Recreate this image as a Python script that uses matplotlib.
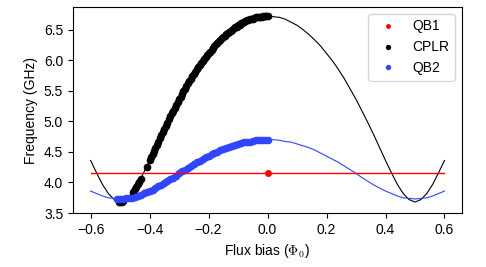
import numpy as np
import matplotlib
matplotlib.use("Agg")
import matplotlib.pyplot as plt

plt.rcParams['font.family'] = ['Liberation Sans', 'DejaVu Sans']
plt.rcParams['mathtext.fontset'] = 'cm'

# model curves, sampled every 0.02 flux quanta from -0.6 to 0.6
flux_line = np.linspace(-0.6, 0.6, 61)
cplr_line = [4.36, 4.16, 3.97, 3.82, 3.72, 3.68, 3.72, 3.82, 3.97, 4.16, 4.36, 4.57,
             4.78, 4.98, 5.17, 5.36, 5.53, 5.70, 5.85, 5.99, 6.11, 6.23, 6.33, 6.42,
             6.50, 6.57, 6.62, 6.67, 6.70, 6.71, 6.72, 6.71, 6.70, 6.67, 6.62, 6.57,
             6.50, 6.42, 6.33, 6.23, 6.11, 5.99, 5.85, 5.70, 5.53, 5.36, 5.17, 4.98,
             4.78, 4.57, 4.36, 4.16, 3.97, 3.82, 3.72, 3.68, 3.72, 3.82, 3.97, 4.16,
             4.36]
qb2_line = [3.86, 3.82, 3.78, 3.75, 3.74, 3.73, 3.74, 3.75, 3.78, 3.82, 3.86, 3.91,
            3.96, 4.02, 4.08, 4.15, 4.21, 4.27, 4.33, 4.38, 4.43, 4.48, 4.53, 4.57,
            4.60, 4.63, 4.66, 4.67, 4.69, 4.70, 4.70, 4.70, 4.69, 4.67, 4.66, 4.63,
            4.60, 4.57, 4.53, 4.48, 4.43, 4.38, 4.33, 4.27, 4.21, 4.15, 4.08, 4.02,
            3.96, 3.91, 3.86, 3.82, 3.78, 3.75, 3.74, 3.73, 3.74, 3.75, 3.78, 3.82,
            3.86]
qb1_line_x = [-0.6, 0.6]
qb1_line = [4.16, 4.16]

# measured points
qb1_x = [0.0]
qb1_y = [4.16]

cplr_x = np.concatenate([[-0.505, -0.50, -0.495, -0.49,
                          -0.455, -0.45, -0.445, -0.44, -0.435, -0.43, -0.41],
                         np.linspace(-0.40, 0.0, 81)])
cplr_y = [3.68, 3.68, 3.68, 3.69, 3.85, 3.89, 3.93, 3.97, 4.01, 4.06, 4.26, 4.36,
          4.41, 4.46, 4.51, 4.57, 4.62, 4.67, 4.72, 4.78, 4.83, 4.88, 4.93, 4.98,
          5.03, 5.08, 5.13, 5.17, 5.22, 5.27, 5.31, 5.36, 5.40, 5.45, 5.49, 5.53,
          5.58, 5.62, 5.66, 5.70, 5.74, 5.77, 5.81, 5.85, 5.88, 5.92, 5.95, 5.99,
          6.02, 6.05, 6.08, 6.11, 6.14, 6.17, 6.20, 6.23, 6.26, 6.28, 6.31, 6.33,
          6.36, 6.38, 6.40, 6.42, 6.44, 6.46, 6.48, 6.50, 6.52, 6.54, 6.55, 6.57,
          6.58, 6.60, 6.61, 6.62, 6.64, 6.65, 6.66, 6.67, 6.67, 6.68, 6.69, 6.70,
          6.70, 6.71, 6.71, 6.71, 6.72, 6.72, 6.72, 6.72]

qb2_x = np.linspace(-0.51, 0.0, 52)
qb2_y = [3.73, 3.73, 3.73, 3.74, 3.74, 3.75, 3.76, 3.78, 3.80, 3.82, 3.84, 3.86,
         3.88, 3.91, 3.94, 3.96, 3.99, 4.02, 4.05, 4.08, 4.11, 4.15, 4.18, 4.21,
         4.24, 4.27, 4.30, 4.33, 4.35, 4.38, 4.41, 4.43, 4.46, 4.48, 4.50, 4.53,
         4.55, 4.57, 4.58, 4.60, 4.62, 4.63, 4.64, 4.66, 4.67, 4.67, 4.68, 4.69,
         4.69, 4.70, 4.70, 4.70]

blue = '#2f45ff'

fig = plt.figure(figsize=(4.86, 2.67), dpi=100)
ax = fig.add_axes([0.150, 0.202, 0.801, 0.772])

ax.plot(flux_line, cplr_line, color='black', lw=0.8, zorder=2)
ax.plot(flux_line, qb2_line, color=blue, lw=0.8, zorder=2)
ax.plot(cplr_x, cplr_y, 'o', color='black', ms=5.5, mew=0, zorder=2.5, label='CPLR')
ax.plot(qb2_x, qb2_y, 'o', color=blue, ms=5.5, mew=0, zorder=2.5, label='QB2')
ax.plot(qb1_line_x, qb1_line, color='red', lw=1.0, zorder=3)
ax.plot(qb1_x, qb1_y, 'o', color='red', ms=5, mew=0, zorder=3.5, label='QB1')

handles, labels = ax.get_legend_handles_labels()
order = [2, 0, 1]
ax.legend([handles[i] for i in order], [labels[i] for i in order],
          loc='upper right', markerscale=0.7)

ax.set_ylim(3.5, 6.87)
ax.set_xlabel(r'Flux bias ($\Phi_0$)')
ax.set_ylabel('Frequency (GHz)')

fig.savefig('out.png')
